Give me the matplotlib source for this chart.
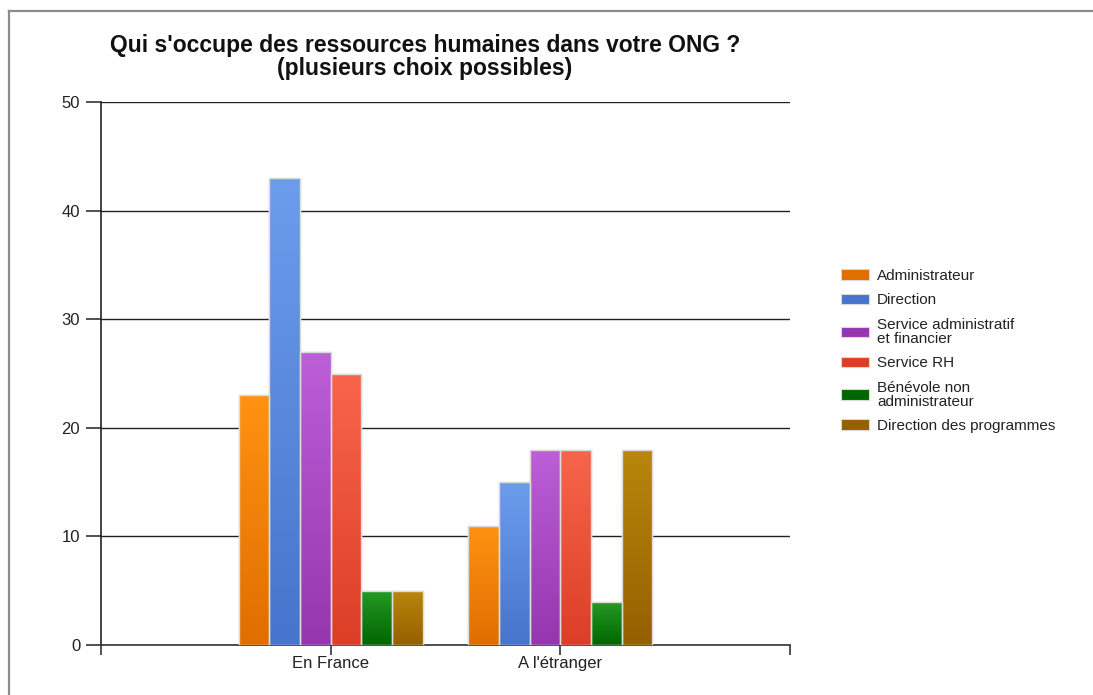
import numpy as np
import matplotlib
matplotlib.use("Agg")
import matplotlib.pyplot as plt
from matplotlib.colors import LinearSegmentedColormap
from matplotlib.patches import Patch
from matplotlib.lines import Line2D

plt.rcParams['font.family'] = ['Liberation Sans', 'DejaVu Sans']

categories = ["En France", "A l'étranger"]
series = ["Administrateur", "Direction", "Service administratif\net financier",
          "Service RH", "Bénévole non\nadministrateur", "Direction des programmes"]
administrateur = [23, 11]
direction = [43, 15]
service_admin_fin = [27, 18]
service_rh = [25, 18]
benevole = [5, 4]
direction_programmes = [5, 18]
values = [administrateur, direction, service_admin_fin, service_rh, benevole, direction_programmes]

# (top colour, bottom colour) for the vertical gradient of each series
colors = [("#ff9212", "#e06e00"),
          ("#6c9dec", "#4774cc"),
          ("#bc5fd8", "#9636ae"),
          ("#f8654c", "#dc3e26"),
          ("#259a25", "#006600"),
          ("#b9870c", "#946000")]

W, H = 1093, 695
fig = plt.figure(figsize=(W / 100, H / 100), dpi=100)
fig.patch.set_facecolor("white")

# outer frame lines (top and left)
fig.add_artist(Line2D([9 / W, 1.0], [1 - 11 / H, 1 - 11 / H], transform=fig.transFigure,
                      color="#8c8c8c", lw=1.6))
fig.add_artist(Line2D([9 / W, 9 / W], [0, 1 - 11 / H], transform=fig.transFigure,
                      color="#8c8c8c", lw=1.6))

ax = fig.add_axes([101 / W, 1 - 645 / H, (790 - 101) / W, (645 - 102) / H])
ax.set_xlim(-1, 2)
ax.set_ylim(0, 50)

n = len(series)
width = 0.8 / n
x = np.arange(len(categories))
for i, (vals, (ctop, cbot)) in enumerate(zip(values, colors)):
    pos = x - 0.4 + width * (i + 0.5)
    bars = ax.bar(pos, vals, width=width, color=cbot, edgecolor="#d8d8d8", lw=1.0, zorder=3)
    cmap = LinearSegmentedColormap.from_list("g%d" % i, [cbot, ctop])
    grad = np.linspace(0, 1, 256).reshape(-1, 1)
    for b in bars:
        x0, y0 = b.get_x(), b.get_y()
        w, h = b.get_width(), b.get_height()
        im = ax.imshow(grad, cmap=cmap, origin="lower", aspect="auto",
                       extent=(x0, x0 + w, y0, y0 + h), zorder=3.5)
        im.set_clip_path(b)
    ax.bar(pos, vals, width=width, facecolor="none", edgecolor="#dcdcdc", lw=1.0, zorder=4)

ax.set_xlim(-1, 2)
ax.set_ylim(0, 50)
ax.set_yticks([0, 10, 20, 30, 40, 50])
ax.yaxis.grid(True, color="#222222", lw=1.0, zorder=1)
ax.set_xticks([-1, 0, 1, 2])
ax.set_xticklabels(["", "En France", "A l'étranger", ""])
ax.tick_params(axis="both", width=1.2, color="#333333", labelsize=12,
               labelcolor="#222222")
ax.tick_params(axis="y", length=11, pad=4)
ax.tick_params(axis="x", length=7, pad=1)
for s in ["top", "right"]:
    ax.spines[s].set_visible(False)
ax.spines["left"].set_color("#222222")
ax.spines["bottom"].set_color("#333333")
ax.spines["left"].set_linewidth(1.2)
ax.spines["bottom"].set_linewidth(1.2)
ax.set_axisbelow(True)

fig.text(425 / W, 1 - 57 / H, "Qui s'occupe des ressources humaines dans votre ONG ?\n(plusieurs choix possibles)",
         ha="center", va="center", fontsize=16.5, fontweight="bold", linespacing=1.05, color="#111111")

handles = [Patch(facecolor=cb, edgecolor="#d8d8d8", lw=0.8) for ct, cb in colors]
leg = fig.legend(handles, series, loc="center left", bbox_to_anchor=(841 / W, 1 - 351 / H),
                 frameon=False, fontsize=11, handlelength=1.85, handleheight=0.7,
                 handletextpad=0.5, labelspacing=0.68, borderpad=0, borderaxespad=0)
for t in leg.get_texts():
    t.set_color("#222222")
    t.set_linespacing(1.0)

fig.savefig("out.png", dpi=100, facecolor="white")
